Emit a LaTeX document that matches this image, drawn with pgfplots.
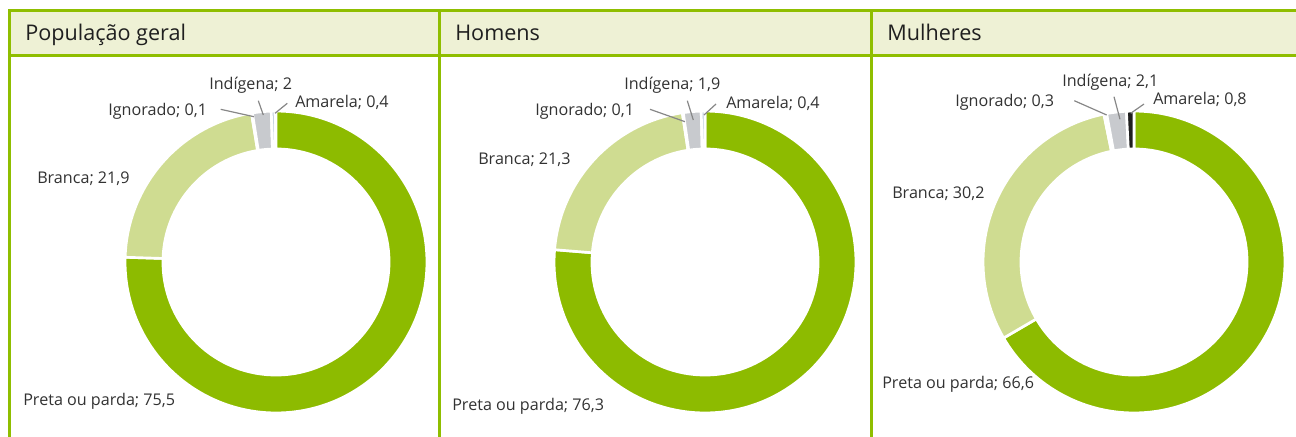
\documentclass[border=0pt]{standalone}
\usepackage{fontspec}
\setmainfont{Open Sans}
\usepackage{pgfplots}
\pgfplotsset{compat=1.18}
\usepackage{pgfplotstable}

\definecolor{frame}{RGB}{143,190,0}
\definecolor{headbg}{RGB}{238,241,213}
\definecolor{cPreta}{RGB}{141,187,0}
\definecolor{cBranca}{RGB}{207,220,145}
\definecolor{cIgn}{RGB}{200,202,206}
\definecolor{cInd}{RGB}{200,202,206}
\definecolor{cAmaL}{RGB}{190,205,220}
\definecolor{cAma}{RGB}{30,30,30}
\definecolor{leader}{RGB}{135,135,135}
\definecolor{txt}{RGB}{50,50,50}

% percentages, clockwise from 12 o'clock
\pgfplotstableread{
cat      value col
Preta    75.5  cPreta
Branca   21.9  cBranca
Ignorado 0.1   cIgn
Indigena 2     cInd
Amarela  0.4   cAmaL
}\geral
\pgfplotstableread{
cat      value col
Preta    76.3  cPreta
Branca   21.3  cBranca
Ignorado 0.1   cIgn
Indigena 1.9   cInd
Amarela  0.4   cAmaL
}\homens
\pgfplotstableread{
cat      value col
Preta    66.6  cPreta
Branca   30.2  cBranca
Ignorado 0.3   cIgn
Indigena 2.1   cInd
Amarela  0.8   cAma
}\mulheres

% one px of the reference = 0.75pt
\def\Ro{113.2}% 151 px
\def\Ri{84.8}%  113 px
\pgfmathsetmacro\Rd{\Ro-\Ri}

\newcommand\donut[3]{%
  \pgfplotstablegetrowsof{#3}%
  \pgfmathtruncatemacro\nr{\pgfplotsretval-1}%
  \gdef\cum{0}%
  \foreach \i in {0,...,\nr}{%
    \pgfplotstablegetelem{\i}{value}\of{#3}\let\sliceval\pgfplotsretval
    \pgfplotstablegetelem{\i}{col}\of{#3}\let\slicecol\pgfplotsretval
    \pgfmathsetmacro\aa{90-3.6*\cum}%
    \pgfmathsetmacro\ab{90-3.6*(\cum+\sliceval)}%
    \fill[fill=\slicecol, draw=white, line width=2pt]
      (axis cs:#1,#2) ++(\aa:\Ro pt)
      arc[start angle=\aa, end angle=\ab, radius=\Ro pt]
      -- ++(\ab+180:\Rd pt)
      arc[start angle=\ab, end angle=\aa, radius=\Ri pt] -- cycle;
    \pgfmathsetmacro\newcum{\cum+\sliceval}%
    \xdef\cum{\newcum}%
  }%
}

\tikzset{
  head/.style={anchor=base west, inner sep=0pt, text=black!88, font=\fontsize{16.2}{18}\selectfont},
  lab/.style={anchor=base west, inner sep=0pt, text=txt, font=\fontsize{12.1}{14}\selectfont},
  lead/.style={leader, line width=0.9pt},
}

\begin{document}
\begin{tikzpicture}
\begin{axis}[
  name=ax,
  width=972pt, height=327pt, scale only axis,
  xmin=0, xmax=1296, ymin=0, ymax=436, y dir=reverse,
  hide axis,
]
% header band and frame
\fill[headbg] (axis cs:9,10.5) rectangle (axis cs:1300,55);
\draw[frame, line width=2.25pt] (axis cs:1300,10.5) -- (axis cs:9.5,10.5) -- (axis cs:9.5,440);
\draw[frame, line width=2.25pt] (axis cs:9.5,55) -- (axis cs:1300,55);
\draw[frame, line width=2.25pt] (axis cs:439,10.5) -- (axis cs:439,440);
\draw[frame, line width=2.25pt] (axis cs:871,10.5) -- (axis cs:871,440);

\node[head] at (axis cs:25,40) {População geral};
\node[head] at (axis cs:455,40) {Homens};
\node[head] at (axis cs:887,40) {Mulheres};

\pgfplotsextra{\donut{276}{262}{\geral}}
\pgfplotsextra{\donut{705}{262}{\homens}}
\pgfplotsextra{\donut{1134}{262}{\mulheres}}

% leader lines
\draw[lead] (axis cs:220.7,109.3) -- (axis cs:254,116.7);
\draw[lead] (axis cs:258.3,100.7) -- (axis cs:263.3,115);
\draw[lead] (axis cs:287.3,103.3) -- (axis cs:275,113.3);
\draw[lead] (axis cs:650,109.3) -- (axis cs:685,121.7);
\draw[lead] (axis cs:687.3,100.7) -- (axis cs:693.3,120);
\draw[lead] (axis cs:716,104) -- (axis cs:704,115);
\draw[lead] (axis cs:1074.3,100.7) -- (axis cs:1106.7,115);
\draw[lead] (axis cs:1114,96.7) -- (axis cs:1120,119.3);
\draw[lead] (axis cs:1144,104) -- (axis cs:1130.7,113.3);

% labels
\node[lab] at (axis cs:209,89) {Indígena; 2};
\node[lab] at (axis cs:108,115) {Ignorado; 0,1};
\node[lab] at (axis cs:295,107) {Amarela; 0,4};
\node[lab] at (axis cs:37,183) {Branca; 21,9};
\node[lab] at (axis cs:23,405) {Preta ou parda; 75,5};

\node[lab] at (axis cs:624,89) {Indígena; 1,9};
\node[lab] at (axis cs:535,115) {Ignorado; 0,1};
\node[lab] at (axis cs:726,108) {Amarela; 0,4};
\node[lab] at (axis cs:478,164) {Branca; 21,3};
\node[lab] at (axis cs:452,410) {Preta ou parda; 76,3};

\node[lab] at (axis cs:1062,86) {Indígena; 2,1};
\node[lab] at (axis cs:955,106) {Ignorado; 0,3};
\node[lab] at (axis cs:1153,104) {Amarela; 0,8};
\node[lab] at (axis cs:892,198) {Branca; 30,2};
\node[lab] at (axis cs:882,388) {Preta ou parda; 66,6};
\end{axis}
\pgfresetboundingbox
\useasboundingbox (ax.south west) rectangle (ax.north east);
\end{tikzpicture}
\end{document}
